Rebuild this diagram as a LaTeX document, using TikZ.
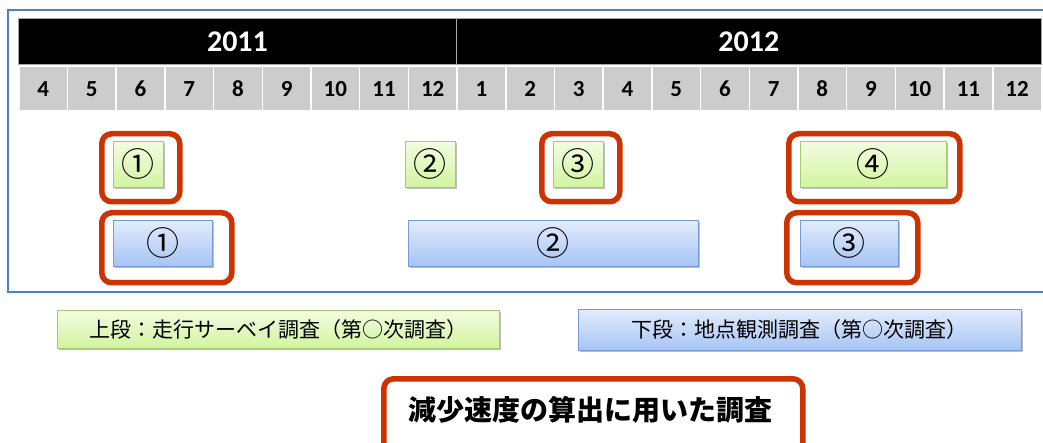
\documentclass[tikz,border=0pt]{standalone}
\usepackage{fontspec}
\setmainfont{Carlito}
\newfontfamily\jp{Noto Sans CJK JP}
\usetikzlibrary{shadows}
\definecolor{redc}{RGB}{204,51,0}
\definecolor{framec}{RGB}{79,129,189}
\definecolor{cellc}{RGB}{204,204,204}
\definecolor{gtop}{RGB}{243,252,226}
\definecolor{gbot}{RGB}{210,244,158}
\definecolor{gline}{RGB}{160,205,110}
\definecolor{btop}{RGB}{226,236,252}
\definecolor{bbot}{RGB}{166,196,245}
\definecolor{bline}{RGB}{118,154,214}
\tikzset{
  x=1pt, y=-1pt,
  shad/.style={drop shadow={shadow xshift=1.2pt, shadow yshift=-1.5pt, opacity=0.25, fill=black}},
  gbox/.style={rectangle, shad, top color=gtop, bottom color=gbot, draw=gline, line width=0.8pt, inner sep=0pt, anchor=north west},
  bbox/.style={rectangle, shad, top color=btop, bottom color=bbot, draw=bline, line width=0.8pt, inner sep=0pt, anchor=north west},
  redframe/.style={rectangle, draw=redc, line width=5.5pt, rounded corners=10pt, inner sep=0pt, anchor=north west},
  cell/.style={rectangle, fill=cellc, draw=white, line width=1.5pt, inner sep=0pt, anchor=north west, minimum width=48.7pt, minimum height=44pt, font=\fontsize{23}{23}\selectfont\bfseries},
  yearbar/.style={rectangle, fill=black, draw=gray!70, line width=0.6pt, inner sep=0pt, anchor=north west, minimum height=46pt, text=white, font=\fontsize{30}{30}\selectfont\bfseries},
  circ/.style={font=\jp\fontsize{33}{33}\selectfont},
}
\begin{document}
\begin{tikzpicture}
\path[use as bounding box, clip] (0,0) rectangle (1043,443);
\fill[white] (0,0) rectangle (1043,443);
% outer frame
\draw[framec, line width=2.2pt] (1060,10) -- (8,10) -- (8,292) -- (1060,292);
% year bar
\node[yearbar, minimum width=438.3pt] (y11) at (18,18) {2011};
\node[yearbar, minimum width=584.4pt] (y12) at (456.3,18) {2012};
% months
\foreach \m [count=\i from 0] in {4,5,6,7,8,9,10,11,12,1,2,3,4,5,6,7,8,9,10,11,12} {
  \node[cell] (m\i) at ({18+48.7*\i},66) {\m};
}
% upper row (green)
\node[gbox, minimum width=50pt, minimum height=46pt] (g1) at (113,141) {};
\node[circ] at (g1.center) {①};
\node[gbox, minimum width=50pt, minimum height=46pt] (g2) at (405,141) {};
\node[circ] at (g2.center) {②};
\node[gbox, minimum width=50pt, minimum height=46pt] (g3) at (553,141) {};
\node[circ] at (g3.center) {③};
\node[gbox, minimum width=146pt, minimum height=46pt] (g4) at (800,141) {};
\node[circ] at (g4.center) {④};
% lower row (blue)
\node[bbox, minimum width=99pt, minimum height=46pt] (b1) at (113,220) {};
\node[circ] at (b1.center) {①};
\node[bbox, minimum width=290pt, minimum height=46pt] (b2) at (408,220) {};
\node[circ] at (b2.center) {②};
\node[bbox, minimum width=98pt, minimum height=46pt] (b3) at (800,220) {};
\node[circ] at (b3.center) {③};
% red frames
\node[redframe, minimum width=78pt, minimum height=68pt] (r1) at (99,131) {};
\node[redframe, minimum width=130pt, minimum height=70pt] (r2) at (99,210) {};
\node[redframe, minimum width=78pt, minimum height=68pt] (r3) at (539,131) {};
\node[redframe, minimum width=171pt, minimum height=68pt] (r4) at (786,131) {};
\node[redframe, minimum width=131pt, minimum height=70pt] (r5) at (784,210) {};
% legends
\node[gbox, minimum width=442pt, minimum height=38pt] (leg1) at (57,310) {};
\node[font=\jp\fontsize{21}{21}\selectfont] at (leg1.center) {上段：走行サーベイ調査（第○次調査）};
\node[bbox, minimum width=443pt, minimum height=41pt] (leg2) at (578,309) {};
\node[font=\jp\fontsize{21}{21}\selectfont] at (leg2.center) {下段：地点観測調査（第○次調査）};
% key
\node[redframe, fill=white, minimum width=419pt, minimum height=90pt] (key) at (381,376) {};
\node[font=\jp\bfseries\fontsize{28}{28}\selectfont] at (590,410) {減少速度の算出に用いた調査};
\end{tikzpicture}
\end{document}
